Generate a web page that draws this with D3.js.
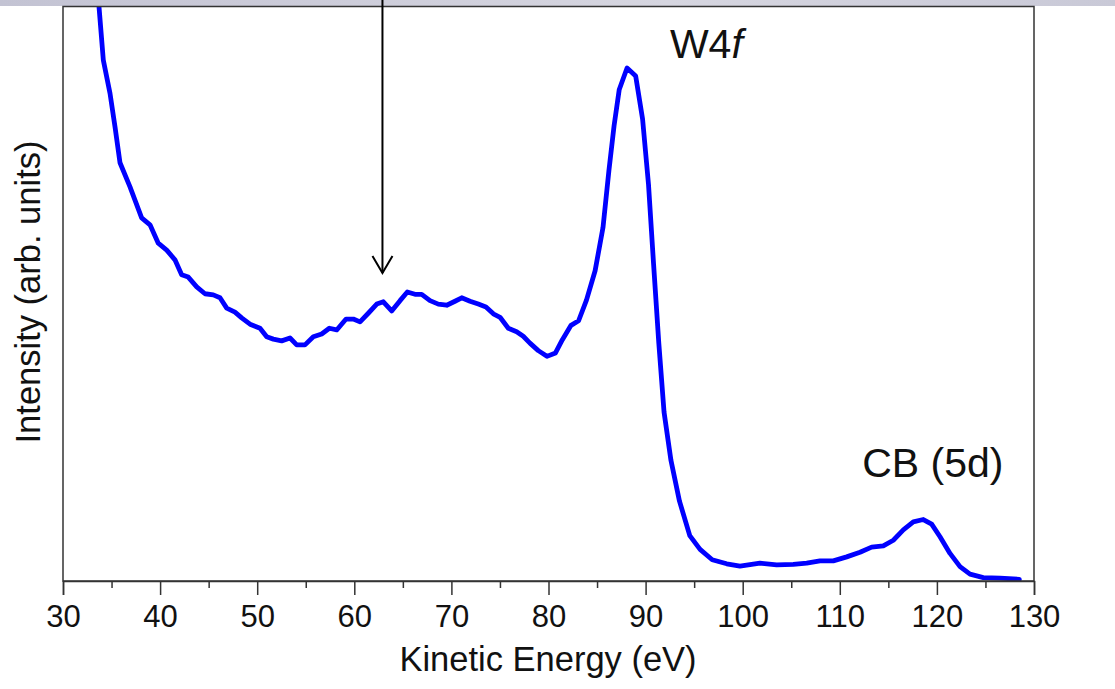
<!DOCTYPE html>
<html>
<head>
<meta charset="utf-8">
<script src="https://cdn.jsdelivr.net/npm/d3@7"></script>
<style>
  html, body { margin: 0; padding: 0; background: #fff; }
  svg { display: block; font-family: "Liberation Sans", Arial, sans-serif; }
</style>
</head>
<body>
<svg id="chart" width="1115" height="689"></svg>
<script>
// ---- data ----
const energy = [33.60, 33.71, 34.15, 34.84, 35.36, 35.87, 36.90, 38.10, 38.96, 39.81, 40.68, 41.53, 42.22, 42.90, 43.77, 44.62, 45.48, 46.17, 46.86, 47.71, 48.40, 49.26, 50.29, 50.98, 51.66, 52.52, 53.38, 54.07, 54.92, 55.78, 56.64, 57.43, 58.19, 59.15, 59.90, 60.59, 61.44, 62.31, 62.99, 63.85, 64.71, 65.46, 66.25, 66.94, 67.80, 68.65, 69.52, 70.37, 71.06, 71.92, 72.77, 73.56, 74.32, 75.01, 75.86, 76.72, 77.40, 78.09, 78.95, 79.84, 80.72, 81.43, 82.32, 83.10, 83.91, 84.80, 85.61, 86.22, 86.75, 87.28, 88.09, 88.98, 89.69, 90.30, 90.82, 91.36, 91.90, 92.61, 93.49, 94.55, 95.61, 96.86, 98.35, 99.72, 101.78, 103.50, 105.21, 106.59, 107.96, 109.33, 110.71, 112.08, 113.28, 114.48, 115.51, 116.54, 117.57, 118.60, 119.46, 120.32, 121.35, 122.38, 123.41, 124.78, 126.50, 128.49];
const intensity = [102.0, 99.9, 90.7, 84.9, 79.0, 72.8, 68.6, 63.2, 62.0, 58.8, 57.6, 55.9, 53.3, 52.9, 51.2, 50.0, 49.8, 49.3, 47.5, 46.8, 45.8, 44.7, 44.0, 42.5, 42.1, 41.8, 42.3, 41.1, 41.1, 42.5, 43.0, 44.0, 43.7, 45.6, 45.6, 45.1, 46.6, 48.2, 48.6, 47.0, 48.8, 50.3, 49.9, 49.9, 48.8, 48.2, 48.0, 48.7, 49.3, 48.7, 48.2, 47.7, 46.5, 45.9, 44.0, 43.4, 42.6, 41.4, 40.1, 39.1, 39.7, 42.0, 44.5, 45.3, 48.9, 54.0, 61.5, 71.4, 79.2, 85.5, 89.3, 87.9, 80.4, 69.0, 55.2, 41.4, 29.4, 21.0, 13.9, 7.9, 5.5, 3.7, 3.0, 2.6, 3.1, 2.8, 2.9, 3.1, 3.5, 3.5, 4.2, 5.0, 5.9, 6.1, 7.1, 8.9, 10.3, 10.7, 9.9, 7.7, 4.8, 2.5, 1.2, 0.6, 0.5, 0.3];
const xMajorTicks = [30, 40, 50, 60, 70, 80, 90, 100, 110, 120, 130];
const xMinorTicks = [35, 45, 55, 65, 75, 85, 95, 105, 115, 125];
const xLabel = "Kinetic Energy (eV)";
const yLabel = "Intensity (arb. units)";
const peakLabels = [{ main: "W4", ital: "f", e: 92.5, v: 91.1 }, { main: "CB (5d)", ital: "", e: 112.3, v: 18.1 }];
const arrowEnergy = 62.9;
const arrowTipIntensity = 53.6;

// ---- layout ----
const svg = d3.select("#chart");
const W = 1115, H = 689;
const x = d3.scaleLinear().domain([30, 130]).range([63, 1034]);
const y = d3.scaleLinear().domain([0, 100]).range([581, 6.5]);

// top band
const defs = svg.append("defs");
const grad = defs.append("linearGradient").attr("id", "band").attr("x1", 0).attr("x2", 1).attr("y1", 0).attr("y2", 0);
grad.append("stop").attr("offset", "0%").attr("stop-color", "#c3c3d3");
grad.append("stop").attr("offset", "60%").attr("stop-color", "#d6d6e0");
grad.append("stop").attr("offset", "100%").attr("stop-color", "#c9c9d7");
svg.append("rect").attr("x", 0).attr("y", 0).attr("width", W).attr("height", 6).attr("fill", "url(#band)");

defs.append("clipPath").attr("id", "plotclip").append("rect")
  .attr("x", x.range()[0]).attr("y", y.range()[1]).attr("width", x.range()[1] - x.range()[0]).attr("height", y.range()[0] - y.range()[1]);

// curve
const pts = energy.map((e, i) => [e, intensity[i]]);
const line = d3.line().x(d => x(d[0])).y(d => y(d[1]));
svg.append("path").datum(pts).attr("d", line)
  .attr("clip-path", "url(#plotclip)")
  .attr("fill", "none").attr("stroke", "#0000ff").attr("stroke-width", 4.8)
  .attr("stroke-linejoin", "round").attr("stroke-linecap", "round");

// frame
const frameColor = "#333";
svg.append("rect").attr("x", x.range()[0]).attr("y", y.range()[1])
  .attr("width", x.range()[1] - x.range()[0]).attr("height", y.range()[0] - y.range()[1])
  .attr("fill", "none").attr("stroke", frameColor).attr("stroke-width", 1.5);

// x axis
const xAxis = d3.axisBottom(x).tickValues(xMajorTicks).tickSize(14).tickPadding(10).tickFormat(d3.format("d"));
const gx = svg.append("g").attr("transform", `translate(0,${y.range()[0]})`).call(xAxis);
gx.select(".domain").attr("stroke", frameColor).attr("stroke-width", 1.5);
gx.selectAll(".tick line").attr("stroke", frameColor).attr("stroke-width", 1.5);
gx.selectAll(".tick text").attr("font-size", 31).attr("fill", "#111").attr("font-family", "Liberation Sans, Arial, sans-serif");
const gxm = svg.append("g").attr("transform", `translate(0,${y.range()[0]})`)
  .call(d3.axisBottom(x).tickValues(xMinorTicks).tickSize(7).tickFormat(""));
gxm.select(".domain").remove();
gxm.selectAll(".tick line").attr("stroke", frameColor).attr("stroke-width", 1.5);

// axis titles
svg.append("text").attr("x", 548).attr("y", 671)
  .attr("text-anchor", "middle").attr("font-size", 34.5).attr("fill", "#111").text(xLabel);
svg.append("text").attr("transform", `translate(40,292) rotate(-90)`)
  .attr("text-anchor", "middle").attr("font-size", 34.5).attr("fill", "#111").text(yLabel);

// peak labels
peakLabels.forEach(p => {
  const t = svg.append("text").attr("x", x(p.e)).attr("y", y(p.v))
    .attr("font-size", 41).attr("fill", "#111");
  t.append("tspan").text(p.main);
  if (p.ital) t.append("tspan").attr("font-style", "italic").text(p.ital);
});

// arrow
const ax = x(arrowEnergy), ay = y(arrowTipIntensity);
svg.append("line").attr("x1", ax).attr("x2", ax).attr("y1", 0).attr("y2", ay)
  .attr("stroke", "#000").attr("stroke-width", 2);
svg.append("path").attr("d", `M${ax - 10},${ay - 17} L${ax},${ay} L${ax + 10},${ay - 17}`)
  .attr("fill", "none").attr("stroke", "#000").attr("stroke-width", 2);
</script>
</body>
</html>
